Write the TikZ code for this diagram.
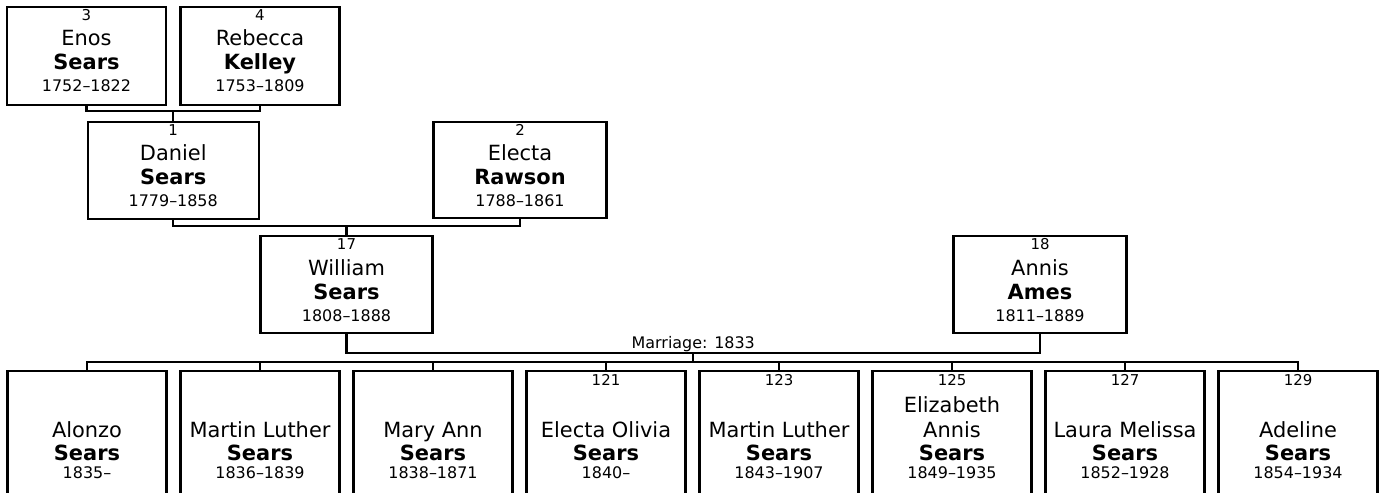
\documentclass[tikz,border=0pt]{standalone}
\usepackage{fontspec}
\setmainfont{DejaVu Sans}
\newcommand\person[9]{%
  \node[pbox,minimum width=#4bp,minimum height=#5bp,anchor=north] (#1) at (#2,#3) {};
  \node[numt] (#1n) at ([yshift=-14.5bp]#1.north) {#6};
  \node[namet] (#1f) at ([yshift=-40bp]#1.north) {#7};
  \node[snamet] (#1l) at ([yshift=-64bp]#1.north) {#8};
  \node[yeart] (#1y) at ([yshift=-86bp]#1.north) {#9};
}
\newcommand\child[5]{%
  \node[pbox,minimum width=159bp,minimum height=150bp,anchor=north] (#1) at (#2,370) {};
  \if\relax\detokenize{#3}\relax\else
  \node[numt] (#1n) at ([yshift=-15bp]#1.north) {#3};\fi
  \node[namet] (#1f) at ([yshift=-67bp]#1.north) {#4};
  \node[snamet] (#1l) at ([yshift=-90bp]#1.north) {Sears};
  \node[yeart] (#1y) at ([yshift=-108bp]#1.north) {#5};
}
\begin{document}
\begin{tikzpicture}[x=1bp,y=-1bp,
  pbox/.style={draw,rectangle,line width=2.2bp,inner sep=0pt,fill=white},
  conn/.style={draw,line width=2.2bp},
  numt/.style={anchor=base,inner sep=0pt,font=\fontsize{15}{17}\selectfont},
  namet/.style={anchor=base,inner sep=0pt,font=\fontsize{21}{25}\selectfont},
  snamet/.style={anchor=base,inner sep=0pt,font=\fontsize{21}{25}\selectfont\bfseries},
  yeart/.style={anchor=base,inner sep=0pt,font=\fontsize{16}{19}\selectfont}]
\clip (0,0) rectangle (1385,493);
\fill[white] (0,0) rectangle (1385,493);
% generation 3
\person{p3}{86.5}{6}{159}{98}{3}{Enos}{Sears}{1752–1822}
\person{p4}{260}{6}{159}{98}{4}{Rebecca}{Kelley}{1753–1809}
% generation 2
\person{p1}{173.25}{121}{171}{97}{1}{Daniel}{Sears}{1779–1858}
\person{p2}{520}{121}{173}{96}{2}{Electa}{Rawson}{1788–1861}
% generation 1
\person{p17}{346.5}{235}{172}{97}{17}{William}{Sears}{1808–1888}
\person{p18}{1040}{235}{173}{97}{18}{Annis}{Ames}{1811–1889}
% children
\child{c1}{87}{}{Alonzo}{1835–}
\child{c2}{260}{}{Martin Luther}{1836–1839}
\child{c3}{433}{}{Mary Ann}{1838–1871}
\child{c4}{606}{121}{Electa Olivia}{1840–}
\child{c5}{779}{123}{Martin Luther}{1843–1907}
\child{c6}{952}{125}{Annis}{1849–1935}
\node[namet] (c6e) at ([yshift=-42bp]c6.north) {Elizabeth};
\child{c7}{1125}{127}{Laura Melissa}{1852–1928}
\child{c8}{1298}{129}{Adeline}{1854–1934}
% connectors
\coordinate (j34) at (173.25,111);
\draw[conn] (p3.south) |- (j34) -| (p4.south);
\draw[conn] (j34) -- (p1.north);
\coordinate (j12) at (346.5,226);
\draw[conn] (p1.south) |- (j12) -| (p2.south);
\draw[conn] (j12) -- (p17.north);
\coordinate (jm) at (693.25,353);
\draw[conn] (p17.south) |- (jm) -| (p18.south);
\node[yeart] (mlabel) at (693.25,348) {Marriage: 1833};
\coordinate (bus) at (693.25,362);
\draw[conn] (jm) -- (bus);
\draw[conn] (c1.north) -- (c1.north |- bus) -- (c8.north |- bus) -- (c8.north);
\foreach \c in {c2,c3,c4,c5,c6,c7}{\draw[conn] (\c.north) -- (\c.north |- bus);}
\end{tikzpicture}
\end{document}
